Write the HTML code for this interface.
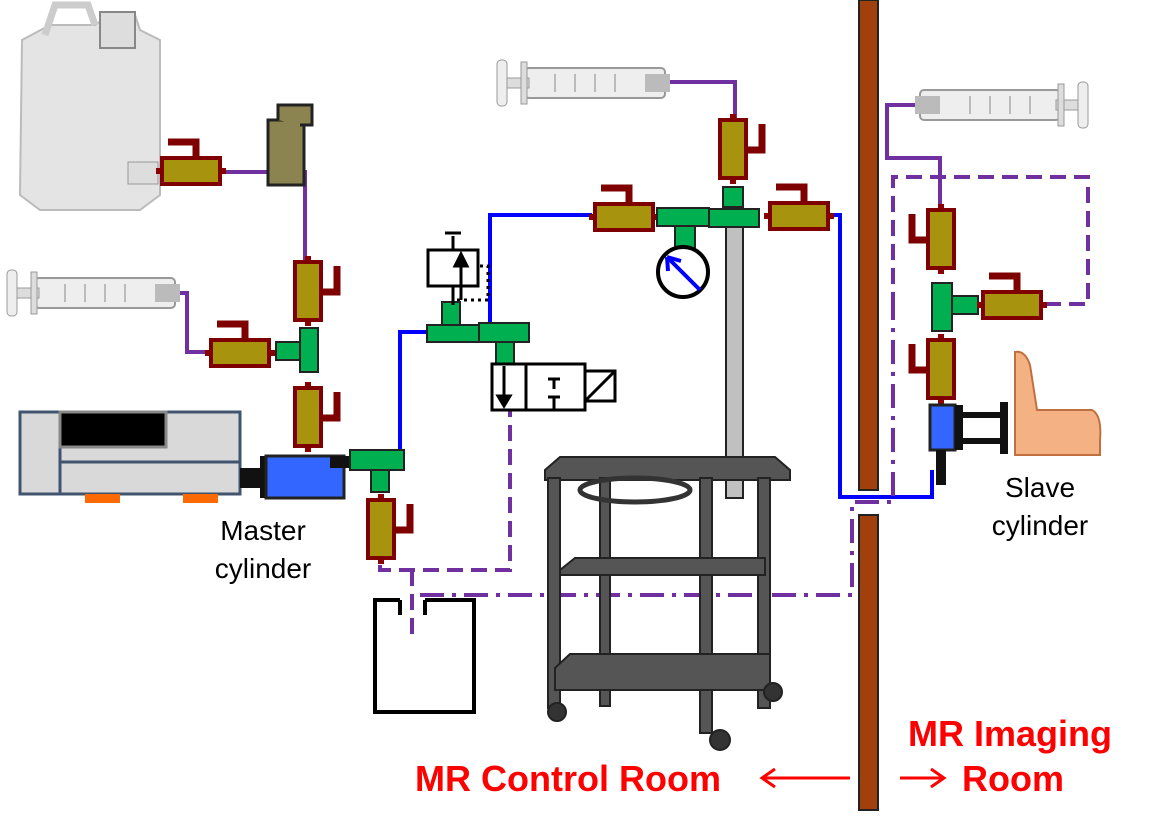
<!DOCTYPE html>
<html><head><meta charset="utf-8"><style>
html,body{margin:0;padding:0;background:#fff;}
svg{display:block;}
text{font-family:"Liberation Sans",Arial,sans-serif;}
</style></head><body>
<svg width="1154" height="824" viewBox="0 0 1154 824">
<defs>
<g id="vh">
 <rect x="-6" y="10" width="70" height="6" fill="#8b0000"/>
 <rect x="0" y="0" width="58" height="26" fill="#a8930f" stroke="#7f0000" stroke-width="4"/>
 <path d="M6,-16 H34 V0" fill="none" stroke="#7f0000" stroke-width="7"/>
</g>
<g id="vv">
 <rect x="10" y="-6" width="6" height="70" fill="#8b0000"/>
 <rect x="0" y="0" width="26" height="58" fill="#a8930f" stroke="#7f0000" stroke-width="4"/>
 <path d="M26,30 H42 V4" fill="none" stroke="#7f0000" stroke-width="7"/>
</g>
<g id="syr">
 <rect x="30" y="8" width="140" height="30" rx="4" fill="#eee" stroke="#999" stroke-width="2"/>
 <rect x="150" y="14" width="25" height="18" fill="#bbb"/>
 <rect x="10" y="18" width="24" height="10" fill="#ddd" stroke="#999"/>
 <rect x="2" y="0" width="10" height="46" rx="4" fill="#eee" stroke="#999"/>
 <rect x="26" y="2" width="6" height="42" fill="#ddd" stroke="#999"/>
 <path d="M60,14 V32 M80,14 V32 M100,14 V32 M120,14 V32" stroke="#888"/>
</g>
</defs>

<!-- lines -->
<g fill="none" stroke-width="4">
 <path d="M220,172 H305 V262" stroke="#7030a0"/>
 <path d="M175,293 H187 V352 H212" stroke="#7030a0"/>
 <path d="M665,82 H735 V120" stroke="#7030a0"/>
 <path d="M915,105 H887 V158 H940 V205" stroke="#7030a0"/>
 <path d="M428,332 H400 V455" stroke="#0000ff"/>
 <path d="M490,332 V215 H592" stroke="#0000ff"/>
 <path d="M828,215 H840 V497 H932 V470" stroke="#0000ff"/>
 <path d="M1045,304 H1088 V177 H893 V310" stroke="#7030a0" stroke-dasharray="16,8"/>
 <path d="M380,565 V570 H510 V410 M412,570 V635" stroke="#7030a0" stroke-dasharray="16,8"/>
 <path d="M420,595 H852 V502 H893 V305" stroke="#7030a0" stroke-dasharray="24,8,4,8"/>
 <path d="M480,266 H488 V300 H455" stroke="#000" stroke-width="3" stroke-dasharray="3,4"/>
</g>

<!-- wall -->
<rect x="859" y="0" width="19" height="490" fill="#a0410d" stroke="#222" stroke-width="2"/>
<rect x="859" y="515" width="19" height="295" fill="#a0410d" stroke="#222" stroke-width="2"/>

<!-- jug -->
<g>
 <path d="M22,40 L50,25 H95 L110,15 H135 L140,30 L160,40 V195 L140,210 H40 L20,195 Z" fill="#e4e4e4" stroke="#bbb" stroke-width="2"/>
 <path d="M45,35 L55,5 H88 L95,25" fill="none" stroke="#ccc" stroke-width="7"/>
 <rect x="100" y="12" width="35" height="36" fill="#ddd" stroke="#888" stroke-width="2"/>
 <rect x="128" y="162" width="30" height="22" fill="#ddd" stroke="#999"/>
</g>
<use href="#vh" x="162" y="158"/>
<g>
 <rect x="268" y="120" width="36" height="65" fill="#8c8450" stroke="#222" stroke-width="3"/>
 <path d="M278,120 V105 H312 V125 H300" fill="#8c8450" stroke="#222" stroke-width="3"/>
</g>

<!-- left syringe branch -->
<use href="#syr" x="5" y="270"/>
<use href="#vv" x="295" y="262"/>
<use href="#vh" x="211" y="340"/>
<rect x="300" y="328" width="18" height="44" fill="#00b050" stroke="#222" stroke-width="2"/>
<rect x="276" y="342" width="24" height="18" fill="#00b050" stroke="#222" stroke-width="2"/>
<use href="#vv" x="295" y="388"/>

<!-- master cylinder -->
<g>
 <rect x="20" y="412" width="220" height="82" fill="#d9d9d9" stroke="#41546e" stroke-width="3"/>
 <rect x="20" y="412" width="40" height="82" fill="#d9d9d9" stroke="#41546e" stroke-width="3"/>
 <rect x="60" y="412" width="106" height="35" fill="#000" stroke="#888" stroke-width="3"/>
 <line x1="60" y1="462" x2="240" y2="462" stroke="#41546e" stroke-width="3"/>
 <rect x="85" y="494" width="35" height="9" fill="#ff6a00"/>
 <rect x="183" y="494" width="35" height="9" fill="#ff6a00"/>
 <rect x="240" y="468" width="24" height="20" fill="#111"/>
 <rect x="260" y="456" width="6" height="42" fill="#111"/>
</g>
<rect x="266" y="456" width="78" height="42" fill="#3366ff" stroke="#222" stroke-width="3"/>
<rect x="330" y="456" width="20" height="12" fill="#111"/>
<g>
 <rect x="350" y="450" width="54" height="20" fill="#00b050" stroke="#222" stroke-width="2"/>
 <rect x="371" y="470" width="18" height="22" fill="#00b050" stroke="#222" stroke-width="2"/>
</g>
<use href="#vv" x="368" y="500"/>
<text x="263" y="540" font-size="28" text-anchor="middle">Master</text>
<text x="263" y="578" font-size="28" text-anchor="middle">cylinder</text>

<!-- center tee, check valve, solenoid -->
<g>
 <rect x="442" y="302" width="18" height="24" fill="#00b050" stroke="#222" stroke-width="2"/>
 <rect x="427" y="325" width="52" height="17" fill="#00b050" stroke="#222" stroke-width="2"/>
 <rect x="479" y="323" width="50" height="19" fill="#00b050" stroke="#222" stroke-width="2"/>
 <rect x="496" y="342" width="18" height="22" fill="#00b050" stroke="#222" stroke-width="2"/>
</g>
<g stroke="#000" stroke-width="3" fill="#fff">
 <rect x="428" y="250" width="50" height="36"/>
 <line x1="453" y1="236" x2="453" y2="250"/><line x1="445" y1="233" x2="461" y2="233"/>
 <line x1="461" y1="300" x2="461" y2="260"/><path d="M455,266 L461,254 L467,266 Z" fill="#000"/>
 <line x1="453" y1="286" x2="453" y2="305"/>
</g>
<g stroke="#000" stroke-width="3" fill="#fff">
 <rect x="492" y="364" width="93" height="46"/>
 <line x1="526" y1="364" x2="526" y2="410"/>
 <rect x="585" y="371" width="30" height="30"/><line x1="585" y1="401" x2="615" y2="371"/>
 <line x1="504" y1="366" x2="504" y2="398"/><path d="M498,396 L504,406 L510,396 Z" fill="#000"/>
 <path d="M554,378 V389 M548,379 H560 M554,410 V397 M548,397 H560"/>
</g>

<!-- top -->
<use href="#syr" x="495" y="60"/>
<rect x="726" y="226" width="17" height="272" fill="#c0c0c0" stroke="#222" stroke-width="2"/>
<use href="#vv" x="720" y="120"/>
<use href="#vh" x="595" y="204"/>
<use href="#vh" x="770" y="203"/>
<g>
 <rect x="657" y="208" width="52" height="18" fill="#00b050" stroke="#222" stroke-width="2"/>
 <rect x="723" y="187" width="20" height="20" fill="#00b050" stroke="#222" stroke-width="2"/>
 <rect x="709" y="209" width="50" height="18" fill="#00b050" stroke="#222" stroke-width="2"/>
 <rect x="675" y="226" width="20" height="22" fill="#00b050" stroke="#222" stroke-width="2"/>
</g>
<g>
 <circle cx="683" cy="272" r="25" fill="#fff" stroke="#000" stroke-width="4"/>
 <line x1="700" y1="290" x2="669" y2="259" stroke="#0000ff" stroke-width="4"/>
 <path d="M667,257 L668,271 M667,257 L681,261" stroke="#0000ff" stroke-width="4" fill="none"/>
</g>

<!-- cart -->
<g fill="#555" stroke="#222" stroke-width="2">
 <path d="M545,470 L560,457 H775 L790,470 V480 H545 Z"/>
 <rect x="548" y="478" width="12" height="230"/>
 <rect x="758" y="478" width="12" height="230"/>
 <rect x="700" y="478" width="12" height="255"/>
 <rect x="600" y="478" width="10" height="228"/>
 <path d="M560,570 L575,558 H765 V575 H560 Z"/>
 <path d="M555,668 L570,654 H770 V690 H555 Z"/>
 <ellipse cx="635" cy="490" rx="55" ry="12" fill="none" stroke="#333" stroke-width="5"/>
 <circle cx="557" cy="712" r="9" fill="#333"/>
 <circle cx="720" cy="740" r="10" fill="#333"/>
 <circle cx="773" cy="692" r="9" fill="#333"/>
</g>

<!-- bucket -->
<path d="M400,600 H375 V712 H474 V600 H425 M400,600 V615 M425,600 V615" fill="none" stroke="#000" stroke-width="4"/>

<!-- right side -->
<g transform="translate(2005,0) scale(-1,1)">
 <use href="#syr" x="915" y="82"/>
</g>
<g transform="translate(1882,0) scale(-1,1)">
 <use href="#vv" x="928" y="210"/>
</g>
<rect x="932" y="283" width="20" height="48" fill="#00b050" stroke="#222" stroke-width="2"/>
<rect x="952" y="296" width="26" height="18" fill="#00b050" stroke="#222" stroke-width="2"/>
<use href="#vh" x="983" y="292"/>
<g transform="translate(1882,0) scale(-1,1)">
 <use href="#vv" x="928" y="340"/>
</g>
<g>
 <rect x="930" y="405" width="25" height="45" fill="#3366ff" stroke="#222" stroke-width="3"/>
 <rect x="955" y="405" width="8" height="45" fill="#111"/>
 <rect x="963" y="412" width="40" height="6" fill="#111"/>
 <rect x="963" y="438" width="40" height="6" fill="#111"/>
 <rect x="1000" y="402" width="8" height="52" fill="#111"/>
 <rect x="936" y="450" width="10" height="35" fill="#111"/>
</g>
<path d="M1015,352 Q1025,350 1030,365 L1037,410 H1092 Q1102,415 1100,440 V455 H1015 Z" fill="#f4b183" stroke="#c07040" stroke-width="2"/>
<text x="1040" y="497" font-size="28" text-anchor="middle">Slave</text>
<text x="1040" y="535" font-size="28" text-anchor="middle">cylinder</text>

<!-- room labels -->
<g fill="#ff0000" font-weight="bold" font-size="36">
 <text x="415" y="791">MR Control Room</text>
 <text x="908" y="746">MR Imaging</text>
 <text x="962" y="791">Room</text>
</g>
<g stroke="#ff0000" stroke-width="3" fill="none">
 <path d="M762,778 H850 M775,769 L762,778 L775,787"/>
 <path d="M900,778 H944 M931,769 L944,778 L931,787"/>
</g>
</svg>
</body></html>
